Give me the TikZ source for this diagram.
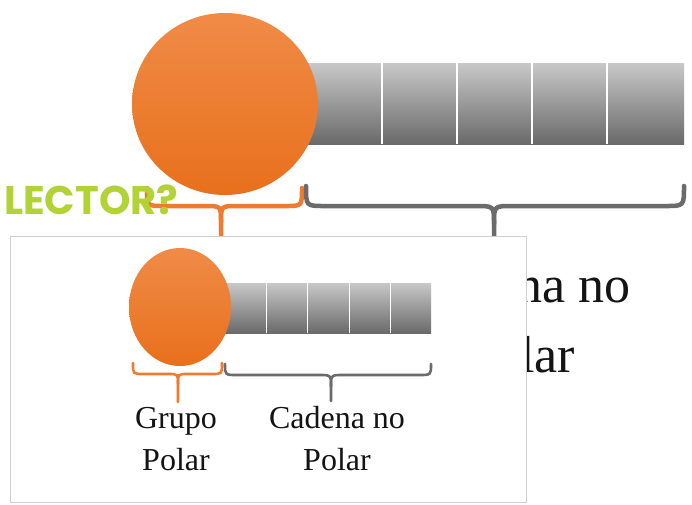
\documentclass[tikz,border=0pt]{standalone}
\usepackage{fontspec}
\setmainfont{Liberation Serif}
\newfontfamily\lectorfont{Poppins}
\usetikzlibrary{shapes.geometric}
\definecolor{headtop}{HTML}{F08B47}
\definecolor{headbot}{HTML}{E8701C}
\definecolor{tailtop}{HTML}{C8C8C8}
\definecolor{tailbot}{HTML}{6A6A6A}
\definecolor{polar}{HTML}{EE7B30}
\definecolor{nonpolar}{HTML}{6B6B6B}
\definecolor{lime}{HTML}{B3D235}
\definecolor{frame}{HTML}{CFCFCF}
\definecolor{ink}{HTML}{141414}
\tikzset{head/.style={ellipse, draw=none, top color=headtop, bottom color=headbot, inner sep=0pt},
         tail/.style={top color=tailtop, bottom color=tailbot, draw=none},
         seg/.style={white, line width=1.3pt},
         bigbrace/.style={line width=4.5pt, line cap=round},
         smallbrace/.style={line width=2.6pt, line cap=round},
         bigtxt/.style={ink, align=center, font=\fontsize{52}{70}\selectfont, inner sep=0pt},
         txt/.style={ink, align=center, font=\fontsize{32}{42}\selectfont, inner sep=0pt},
         lector/.style={lime, font=\lectorfont\bfseries\fontsize{40}{40}\selectfont, inner sep=0pt}}
% #1 style, #2 left x, #3 right x, #4 tip x, #5 end y, #6 arm y, #7 tip y, #8 curl
\newcommand\curlybrace[8]{%
  \draw[#1] (#2,#5) .. controls (#2,#6) .. (#2+#8,#6) -- (#4-#8,#6) .. controls (#4,#6) .. (#4,#6+#8) -- (#4,#7);
  \draw[#1] (#3,#5) .. controls (#3,#6) .. (#3-#8,#6) -- (#4+#8,#6) .. controls (#4,#6) .. (#4,#6+#8);}
\begin{document}
\begin{tikzpicture}[x=1pt,y=-1pt]
\useasboundingbox[fill=white] (0,0) rectangle (692,504);
% big molecule
\fill[tail] (280,63) rectangle (684,144);
\foreach \x in {382,457,532,607} {\draw[seg] (\x,63) -- (\x,144);}
\node[head, minimum width=186pt, minimum height=182pt] (headL) at (225,104) {};
\curlybrace{bigbrace, polar}{147}{302}{221}{188}{206}{240}{16}
\curlybrace{bigbrace, nonpolar}{306}{684}{494}{186}{206}{240}{18}
\node[bigtxt, anchor=base] (tailtxtL) at (520,372) {Cadena no\\Polar};
\node[lector, anchor=base west] (quiz) at (4,214) {LECTOR?};
% inset panel
\draw[frame, line width=0.8pt, fill=white] (10,236) rectangle (526,502);
\fill[tail] (205,283) rectangle (431,333);
\foreach \x in {266,307,349,390} {\draw[seg, line width=1pt] (\x,283) -- (\x,333);}
\node[head, minimum width=102pt, minimum height=118pt] (headS) at (180,307) {};
\curlybrace{smallbrace, polar}{133}{222}{178}{363}{374}{402}{10}
\curlybrace{smallbrace, nonpolar}{225}{431}{331}{364}{375}{401}{12}
\node[txt, anchor=base] (headtxt) at (176,470) {Grupo\\Polar};
\node[txt, anchor=base] (tailtxt) at (337,470) {Cadena no\\Polar};
\end{tikzpicture}
\end{document}
